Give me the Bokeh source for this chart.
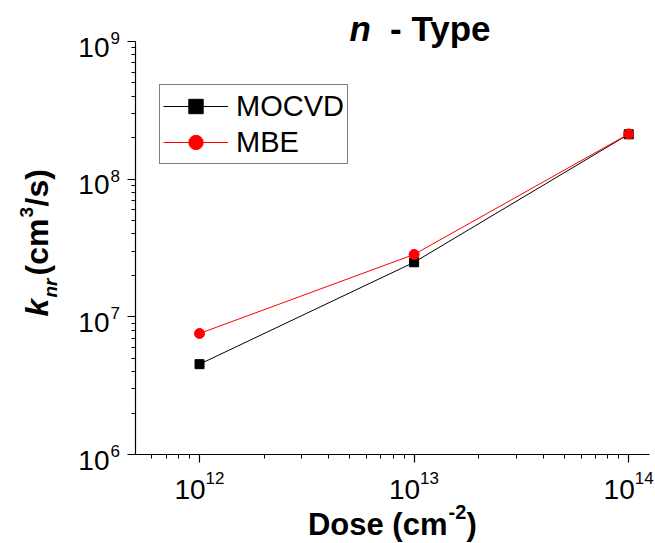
import math
from bokeh.plotting import figure
from bokeh.models import (Label, Legend, LegendItem, FixedTicker,
                          CustomJSTickFormatter, Range1d)
from bokeh.embed import file_html
from bokeh.resources import INLINE

# ---- data ----
dose = [1e12, 1e13, 1e14]
mocvd = [4.53e6, 2.49e7, 2.12e8]
mbe = [7.57e6, 2.84e7, 2.13e8]
series_names = ["MOCVD", "MBE"]

x_major = [1e12, 1e13, 1e14]
x_exps = ["12", "13", "14"]
y_major = [1e6, 1e7, 1e8, 1e9]
y_exps = ["6", "7", "8", "9"]

title_parts = ["n", "- Type"]
x_label_parts = ["Dose (cm", "-2", ")"]
y_label_parts = ["k", "nr", "(cm", "3", "/s)"]

# ---- layout (pixel positions of the axes box on the canvas) ----
W, H = 654, 543
AX_L, AX_R, AX_T, AX_B = 135, 649, 41, 454
X0, X1 = 5.03e11, 1.25e14      # x axis extent
Y0, Y1 = 1e6, 1e9              # y axis extent
FONT = "Liberation Sans"
DESC = 0.21                    # baseline correction (fraction of font size)

lx0, lx1 = math.log10(X0), math.log10(X1)
ly0, ly1 = math.log10(Y0), math.log10(Y1)
ppx = (AX_R - AX_L) / (lx1 - lx0)     # px per decade (x)
ppy = (AX_B - AX_T) / (ly1 - ly0)     # px per decade (y)

# frame covers the whole canvas so that no text is clipped
fx0 = 10 ** (lx0 - AX_L / ppx)
fx1 = 10 ** (lx0 + (W - AX_L) / ppx)
fy1 = 10 ** (ly1 + AX_T / ppy)
fy0 = 10 ** (ly1 - (H - AX_T) / ppy)

p = figure(width=W, height=H, x_axis_type="log", y_axis_type="log",
           x_range=Range1d(fx0, fx1), y_range=Range1d(fy0, fy1),
           output_backend="svg", toolbar_location=None, title=None,
           min_border=0, min_border_left=0, min_border_right=0,
           min_border_top=0, min_border_bottom=0)
p.outline_line_color = None
p.xgrid.visible = False
p.ygrid.visible = False
p.background_fill_color = "white"
p.border_fill_color = "white"


def dx(cx):
    return 10 ** (lx0 + (cx - AX_L) / ppx)


def dy(cy):
    return 10 ** (ly0 + (AX_B - cy) / ppy)


def cxof(v):
    return AX_L + (math.log10(v) - lx0) * ppx


def cyof(v):
    return AX_B - (math.log10(v) - ly0) * ppy


x_minor = [m * 10 ** e for e in range(11, 15) for m in range(2, 10)
           if X0 <= m * 10 ** e <= X1]
y_minor = [m * 10 ** e for e in range(5, 10) for m in range(2, 10)
           if Y0 <= m * 10 ** e <= Y1]
p.xaxis.ticker = FixedTicker(ticks=x_major, minor_ticks=x_minor)
p.yaxis.ticker = FixedTicker(ticks=y_major, minor_ticks=y_minor)
p.xaxis.fixed_location = Y0
p.yaxis.fixed_location = X0
p.xaxis.bounds = (X0, X1)
p.yaxis.bounds = (Y0, Y1)

for ax in (p.xaxis[0], p.yaxis[0]):
    ax.axis_line_color = "black"
    ax.axis_line_width = 1.2
    ax.major_tick_line_color = "black"
    ax.minor_tick_line_color = "black"
    ax.major_tick_line_width = 1.2
    ax.minor_tick_line_width = 1
    ax.major_tick_in = 0
    ax.major_tick_out = 8
    ax.minor_tick_in = 0
    ax.minor_tick_out = 4
    ax.formatter = CustomJSTickFormatter(code="return ''")
    ax.major_label_text_font_size = "0px"

# ---- series ----
l1 = p.line(dose, mocvd, line_color="black", line_width=1)
m1 = p.scatter(dose, mocvd, marker="square", size=9, fill_color="black",
               line_color="black")
l2 = p.line(dose, mbe, line_color="#ff0000", line_width=1)
m2 = p.scatter(dose, mbe, marker="circle", size=10, fill_color="#ff0000",
               line_color="#ff0000")

legend = Legend(items=[LegendItem(label=series_names[0], renderers=[l1, m1]),
                       LegendItem(label=series_names[1], renderers=[l2, m2])],
                location=(159, H - 164), orientation="vertical",
                border_line_color="black", border_line_width=1,
                background_fill_color="white", background_fill_alpha=1,
                padding=3, spacing=0, margin=0,
                label_height=36, glyph_height=36, glyph_width=65,
                label_standoff=8, label_text_font=FONT,
                label_text_font_size="29px", label_text_color="black")
p.add_layout(legend)


def lab(text, cx, cy, size, align="left", style="normal", angle=0.0):
    if angle == 0.0:
        cy = cy - DESC * size
    else:
        cx = cx - DESC * size
    p.add_layout(Label(x=dx(cx), y=dy(cy), x_units="data", y_units="data",
                       text=text, text_font=FONT,
                       text_font_size=f"{size}px", text_font_style=style,
                       text_align=align, text_baseline="alphabetic",
                       text_color="black", angle=angle))


# x tick labels
for v, e in zip(x_major, x_exps):
    c = cxof(v) + 6
    lab("10", c, 495, 28, align="right")
    lab(e, c, 481, 17, align="left")

# y tick labels
for v, e in zip(y_major, y_exps):
    c = cyof(v)
    lab("10", 109, c + 11.5, 28, align="right")
    lab(e, 110, c, 17, align="left")

# title
lab(title_parts[0], 349, 35, 35, align="left", style="bold italic")
lab(title_parts[1], 490, 35, 35, align="right", style="bold")

# x axis label
lab(x_label_parts[0], 447, 531, 31, align="right", style="bold")
lab(x_label_parts[1], 448, 516, 20, align="left", style="bold")
lab(x_label_parts[2], 466, 531, 31, align="left", style="bold")

# y axis label (rotated)
a = math.pi / 2
lab(y_label_parts[0], 43, 316, 32, align="left", style="bold italic", angle=a)
lab(y_label_parts[1], 54, 297, 19, align="left", style="bold italic", angle=a)
lab(y_label_parts[2], 43, 218, 32, align="right", style="bold", angle=a)
lab(y_label_parts[3], 30, 217, 19, align="left", style="bold", angle=a)
lab(y_label_parts[4], 43, 206, 32, align="left", style="bold", angle=a)

open("out.html", "w").write(file_html(p, INLINE))
